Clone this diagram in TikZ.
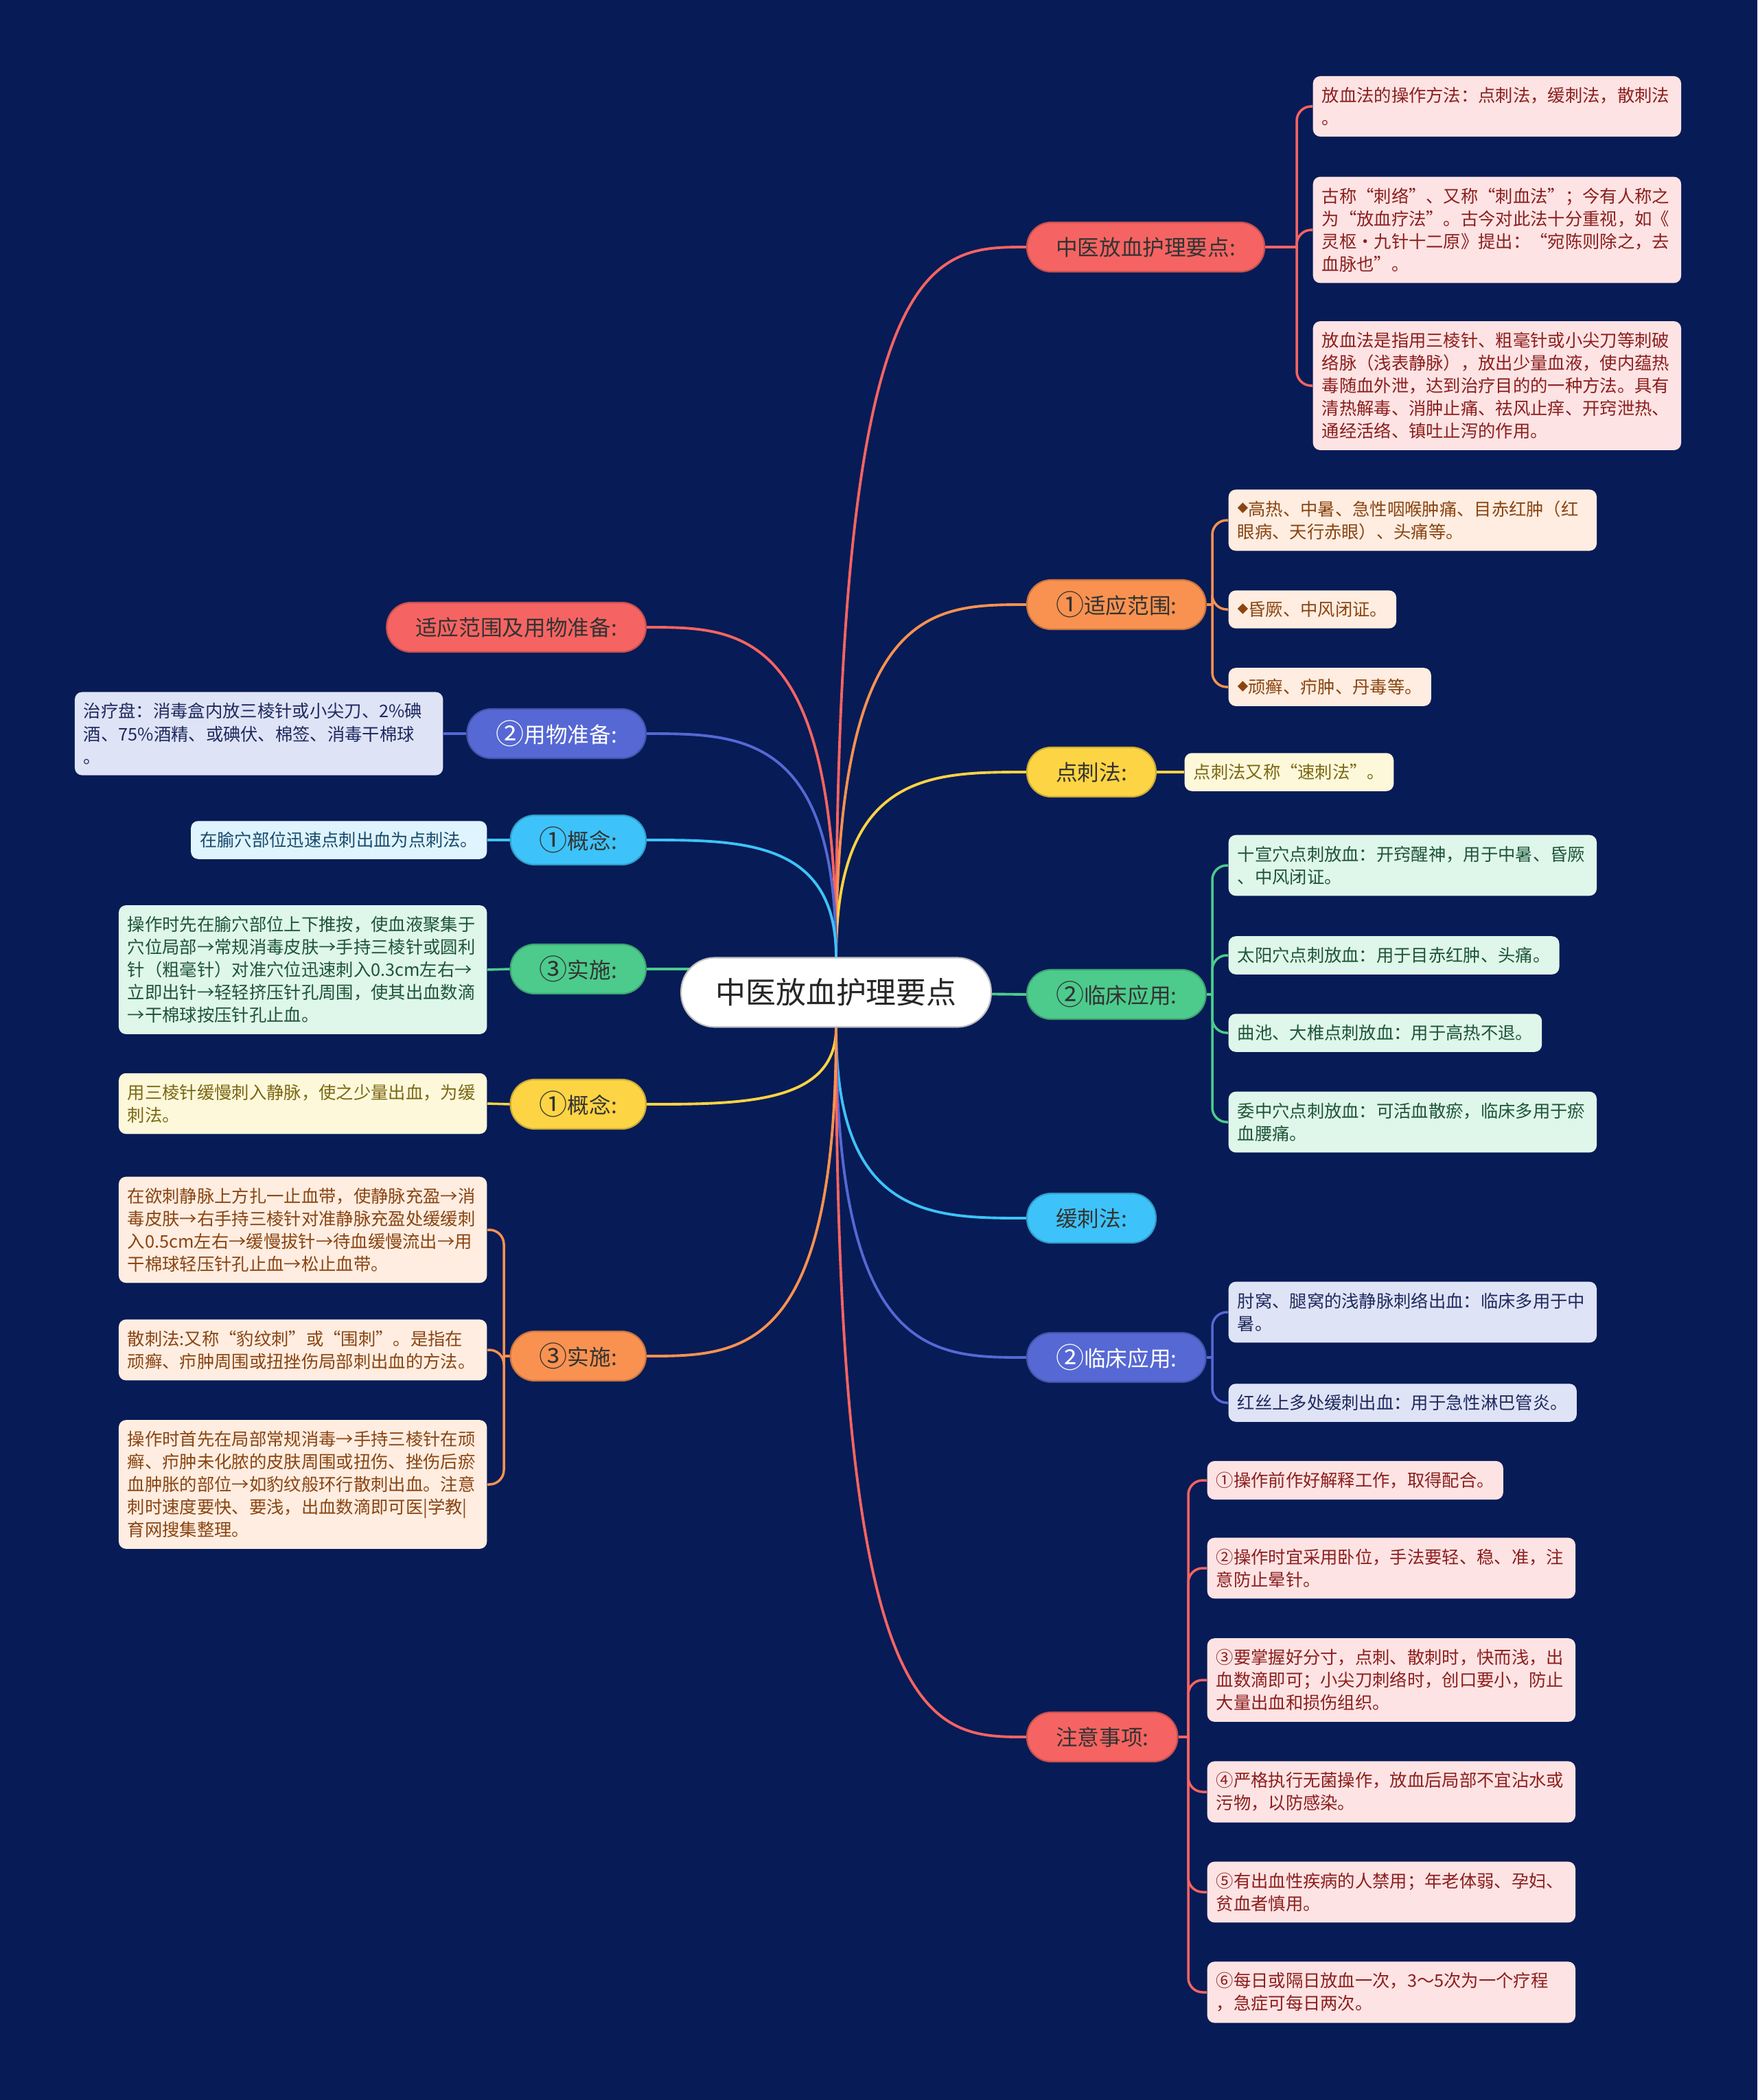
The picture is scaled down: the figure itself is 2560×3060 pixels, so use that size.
\documentclass[tikz,border=0pt]{standalone}
\usepackage{fontspec}
\setmainfont{Noto Sans CJK SC}
\usetikzlibrary{calc}

% 配色：主题色 / 叶子底色 / 叶子字色
\definecolor{bgnavy}{HTML}{071B56}
\definecolor{cred}{HTML}{F56462}
\definecolor{corange}{HTML}{F99250}
\definecolor{cyellow}{HTML}{FDD443}
\definecolor{cgreen}{HTML}{4CCB8C}
\definecolor{cblue}{HTML}{3DC3F9}
\definecolor{cindigo}{HTML}{5568D4}
\definecolor{lred}{HTML}{FDE3E3}
\definecolor{lorange}{HTML}{FEEDE0}
\definecolor{lyellow}{HTML}{FEF8DB}
\definecolor{lgreen}{HTML}{DFF6EA}
\definecolor{lblue}{HTML}{DFF4FD}
\definecolor{lindigo}{HTML}{DFE3F6}
\definecolor{tred}{HTML}{8C1E1E}
\definecolor{torange}{HTML}{8A4412}
\definecolor{tyellow}{HTML}{7A6812}
\definecolor{tgreen}{HTML}{1D5538}
\definecolor{tblue}{HTML}{184A6E}
\definecolor{tindigo}{HTML}{1E2A5E}

\newcommand\rootfont{\fontsize{12.5}{15}\selectfont}
\newcommand\topicfont{\fontsize{9}{11}\selectfont}
\newcommand\leaffont{\fontsize{7.2}{9.4}\selectfont}
\newcommand\dia{\raisebox{1.3pt}{\fontsize{4.5}{4.5}\selectfont ◆}}
\newcommand\cnum[1]{\raisebox{-0.6pt}{\scalebox{1.3}{#1}}}

\pgfdeclarelayer{edges}
\pgfsetlayers{edges,main}

\begin{document}
\begin{tikzpicture}[x=0.01cm, y=-0.01cm,
  root/.style={fill=white, draw=black!25, line width=0.6pt, rounded corners=14pt,
    font=\rootfont, text=black!85, inner xsep=0.5cm, minimum height=1.01cm},
  topic/.style={fill=#1, draw=#1!80!black, line width=0.6pt, rounded corners=10pt,
    font=\topicfont, text=black!80, inner xsep=0.42cm, minimum height=0.72cm},
  leaf/.style={rounded corners=3pt, font=\leaffont, align=left,
    inner xsep=0.13cm, inner ysep=0.16cm},
  wide/.style={text width=5.1cm},
  redleaf/.style={leaf, fill=lred, text=tred},
  orangeleaf/.style={leaf, fill=lorange, text=torange},
  yellowleaf/.style={leaf, fill=lyellow, text=tyellow},
  greenleaf/.style={leaf, fill=lgreen, text=tgreen},
  blueleaf/.style={leaf, fill=lblue, text=tblue},
  indigoleaf/.style={leaf, fill=lindigo, text=tindigo},
  link/.style={line width=1.1pt},
  twig/.style={line width=1pt, rounded corners=6pt},
  curved/.style={to path={.. controls (\tikztostart |- \tikztotarget)
    and ($(\tikztostart |- \tikztotarget)!.5!(\tikztotarget)$) .. (\tikztotarget)}}]

  \useasboundingbox (0,0) rectangle (2560,3060);
  \begin{pgfonlayer}{edges}
    \fill[bgnavy] (0,0) rectangle (2560,3060);
  \end{pgfonlayer}

  % 中心主题
  \node[root] (c) at (1218,1446) {中医放血护理要点};

  % 右侧分支
  \node[topic=cred, anchor=west]    (r1) at (1495,360)  {中医放血护理要点:};
  \node[topic=corange, anchor=west] (r2) at (1495,881)  {\cnum{①}适应范围:};
  \node[topic=cyellow, anchor=west] (r3) at (1495,1125) {点刺法:};
  \node[topic=cgreen, anchor=west]  (r4) at (1495,1449) {\cnum{②}临床应用:};
  \node[topic=cblue, anchor=west]   (r5) at (1495,1775) {缓刺法:};
  \node[topic=cindigo, text=white, anchor=west] (r6) at (1495,1978) {\cnum{②}临床应用:};
  \node[topic=cred, anchor=west]    (r7) at (1495,2531) {注意事项:};

  % 左侧分支
  \node[topic=cred, anchor=east]    (l1) at (942,914)  {适应范围及用物准备:};
  \node[topic=cindigo, text=white, anchor=east] (l2) at (942,1069) {\cnum{②}用物准备:};
  \node[topic=cblue, anchor=east]   (l3) at (942,1224) {\cnum{①}概念:};
  \node[topic=cgreen, anchor=east]  (l4) at (942,1412) {\cnum{③}实施:};
  \node[topic=cyellow, anchor=east] (l5) at (942,1609) {\cnum{①}概念:};
  \node[topic=corange, anchor=east] (l6) at (942,1976) {\cnum{③}实施:};

  % 放血要点
  \node[redleaf, wide, anchor=west] (r1a) at (1912,155)
    {放血法的操作方法：点刺法，缓刺法，散刺法\\。};
  \node[redleaf, wide, anchor=west] (r1b) at (1912,335)
    {古称“刺络”、又称“刺血法”；今有人称之\\为“放血疗法”。古今对此法十分重视，如《\\灵枢·九针十二原》提出：“宛陈则除之，去\\血脉也”。};
  \node[redleaf, wide, anchor=west] (r1c) at (1912,562)
    {放血法是指用三棱针、粗毫针或小尖刀等刺破\\络脉（浅表静脉），放出少量血液，使内蕴热\\毒随血外泄，达到治疗目的的一种方法。具有\\清热解毒、消肿止痛、祛风止痒、开窍泄热、\\通经活络、镇吐止泻的作用。};

  % 适应范围
  \node[orangeleaf, wide, anchor=west] (r2a) at (1789,758)
    {\dia 高热、中暑、急性咽喉肿痛、目赤红肿（红\\眼病、天行赤眼）、头痛等。};
  \node[orangeleaf, anchor=west] (r2b) at (1789,888) {\dia 昏厥、中风闭证。};
  \node[orangeleaf, anchor=west] (r2c) at (1789,1001) {\dia 顽癣、疖肿、丹毒等。};

  % 点刺法
  \node[yellowleaf, anchor=west] (r3a) at (1725,1125) {点刺法又称“速刺法”。};

  % 点刺法临床应用
  \node[greenleaf, wide, anchor=west] (r4a) at (1789,1261)
    {十宣穴点刺放血：开窍醒神，用于中暑、昏厥\\、中风闭证。};
  \node[greenleaf, anchor=west] (r4b) at (1789,1392) {太阳穴点刺放血：用于目赤红肿、头痛。};
  \node[greenleaf, anchor=west] (r4c) at (1789,1505) {曲池、大椎点刺放血：用于高热不退。};
  \node[greenleaf, wide, anchor=west] (r4d) at (1789,1635)
    {委中穴点刺放血：可活血散瘀，临床多用于瘀\\血腰痛。};

  % 缓刺法临床应用
  \node[indigoleaf, wide, anchor=west] (r6a) at (1789,1912)
    {肘窝、腿窝的浅静脉刺络出血：临床多用于中\\暑。};
  \node[indigoleaf, anchor=west] (r6b) at (1789,2044) {红丝上多处缓刺出血：用于急性淋巴管炎。};

  % 注意事项
  \node[redleaf, anchor=west] (r7a) at (1758,2157) {①操作前作好解释工作，取得配合。};
  \node[redleaf, wide, anchor=west] (r7b) at (1758,2285)
    {②操作时宜采用卧位，手法要轻、稳、准，注\\意防止晕针。};
  \node[redleaf, wide, anchor=west] (r7c) at (1758,2448)
    {③要掌握好分寸，点刺、散刺时，快而浅，出\\血数滴即可；小尖刀刺络时，创口要小，防止\\大量出血和损伤组织。};
  \node[redleaf, wide, anchor=west] (r7d) at (1758,2611)
    {④严格执行无菌操作，放血后局部不宜沾水或\\污物，以防感染。};
  \node[redleaf, wide, anchor=west] (r7e) at (1758,2757)
    {⑤有出血性疾病的人禁用；年老体弱、孕妇、\\贫血者慎用。};
  \node[redleaf, wide, anchor=west] (r7f) at (1758,2903)
    {⑥每日或隔日放血一次，3～5次为一个疗程\\，急症可每日两次。};

  % 左侧叶子
  \node[indigoleaf, wide, anchor=east] (l2a) at (646,1069)
    {治疗盘：消毒盒内放三棱针或小尖刀、2\%碘\\酒、75\%酒精、或碘伏、棉签、消毒干棉球\\。};
  \node[blueleaf, anchor=east] (l3a) at (710,1224) {在腧穴部位迅速点刺出血为点刺法。};
  \node[greenleaf, wide, anchor=east] (l4a) at (710,1413)
    {操作时先在腧穴部位上下推按，使血液聚集于\\穴位局部→常规消毒皮肤→手持三棱针或圆利\\针（粗毫针）对准穴位迅速刺入0.3cm左右→\\立即出针→轻轻挤压针孔周围，使其出血数滴\\→干棉球按压针孔止血。};
  \node[yellowleaf, wide, anchor=east] (l5a) at (710,1608)
    {用三棱针缓慢刺入静脉，使之少量出血，为缓\\刺法。};
  \node[orangeleaf, wide, anchor=east] (l6a) at (710,1792)
    {在欲刺静脉上方扎一止血带，使静脉充盈→消\\毒皮肤→右手持三棱针对准静脉充盈处缓缓刺\\入0.5cm左右→缓慢拔针→待血缓慢流出→用\\干棉球轻压针孔止血→松止血带。};
  \node[orangeleaf, wide, anchor=east] (l6b) at (710,1967)
    {散刺法:又称“豹纹刺”或“围刺”。是指在\\顽癣、疖肿周围或扭挫伤局部刺出血的方法。};
  \node[orangeleaf, wide, anchor=east] (l6c) at (710,2163)
    {操作时首先在局部常规消毒→手持三棱针在顽\\癣、疖肿未化脓的皮肤周围或扭伤、挫伤后瘀\\血肿胀的部位→如豹纹般环行散刺出血。注意\\刺时速度要快、要浅，出血数滴即可医|学教|\\育网搜集整理。};

  % 分叉点
  \coordinate (r1t) at (1889,360);
  \coordinate (r2t) at (1766,881);
  \coordinate (r4t) at (1766,1449);
  \coordinate (r6t) at (1766,1978);
  \coordinate (r7t) at (1731,2531);
  \coordinate (l6t) at (734,1976);

  \begin{pgfonlayer}{edges}
    % 中心到分支
    \draw[link, cred]    (c.north) to[curved] (r1.west);
    \draw[link, corange] (c.north) to[curved] (r2.west);
    \draw[link, cyellow] (c.north) to[curved] (r3.west);
    \draw[link, cgreen]  (c) -- (r4.west);
    \draw[link, cblue]   (c.south) to[curved] (r5.west);
    \draw[link, cindigo] (c.south) to[curved] (r6.west);
    \draw[link, cred]    (c.south) to[curved] (r7.west);
    \draw[link, cred]    (c.north) to[curved] (l1.east);
    \draw[link, cindigo] (c.north) to[curved] (l2.east);
    \draw[link, cblue]   (c.north) to[curved] (l3.east);
    \draw[link, cgreen]  (l4.east) -- (l4.east -| c);
    \draw[link, cyellow] (c.south) to[curved] (l5.east);
    \draw[link, corange] (c.south) to[curved] (l6.east);

    % 分支到叶子
    \draw[twig, cred] (r1.east) -- (r1t);
    \draw[twig, cred] (r1t) |- (r1a.west);
    \draw[twig, cred] (r1t) |- (r1b.west);
    \draw[twig, cred] (r1t) |- (r1c.west);
    \draw[twig, corange] (r2.east) -- (r2t);
    \draw[twig, corange] (r2t) |- (r2a.west);
    \draw[twig, corange] (r2t) |- (r2b.west);
    \draw[twig, corange] (r2t) |- (r2c.west);
    \draw[twig, cyellow] (r3.east) -- (r3a.west);
    \draw[twig, cgreen] (r4.east) -- (r4t);
    \draw[twig, cgreen] (r4t) |- (r4a.west);
    \draw[twig, cgreen] (r4t) |- (r4b.west);
    \draw[twig, cgreen] (r4t) |- (r4c.west);
    \draw[twig, cgreen] (r4t) |- (r4d.west);
    \draw[twig, cindigo] (r6.east) -- (r6t);
    \draw[twig, cindigo] (r6t) |- (r6a.west);
    \draw[twig, cindigo] (r6t) |- (r6b.west);
    \draw[twig, cred] (r7.east) -- (r7t);
    \draw[twig, cred] (r7t) |- (r7a.west);
    \draw[twig, cred] (r7t) |- (r7b.west);
    \draw[twig, cred] (r7t) |- (r7c.west);
    \draw[twig, cred] (r7t) |- (r7d.west);
    \draw[twig, cred] (r7t) |- (r7e.west);
    \draw[twig, cred] (r7t) |- (r7f.west);
    \draw[twig, cindigo] (l2.west) -- (l2a.east);
    \draw[twig, cblue] (l3.west) -- (l3a.east);
    \draw[twig, cgreen] (l4.west) -- (l4a.east);
    \draw[twig, cyellow] (l5.west) -- (l5a.east);
    \draw[twig, corange] (l6.west) -- (l6t);
    \draw[twig, corange] (l6t) |- (l6a.east);
    \draw[twig, corange] (l6t) |- (l6b.east);
    \draw[twig, corange] (l6t) |- (l6c.east);
  \end{pgfonlayer}
\end{tikzpicture}
\end{document}
